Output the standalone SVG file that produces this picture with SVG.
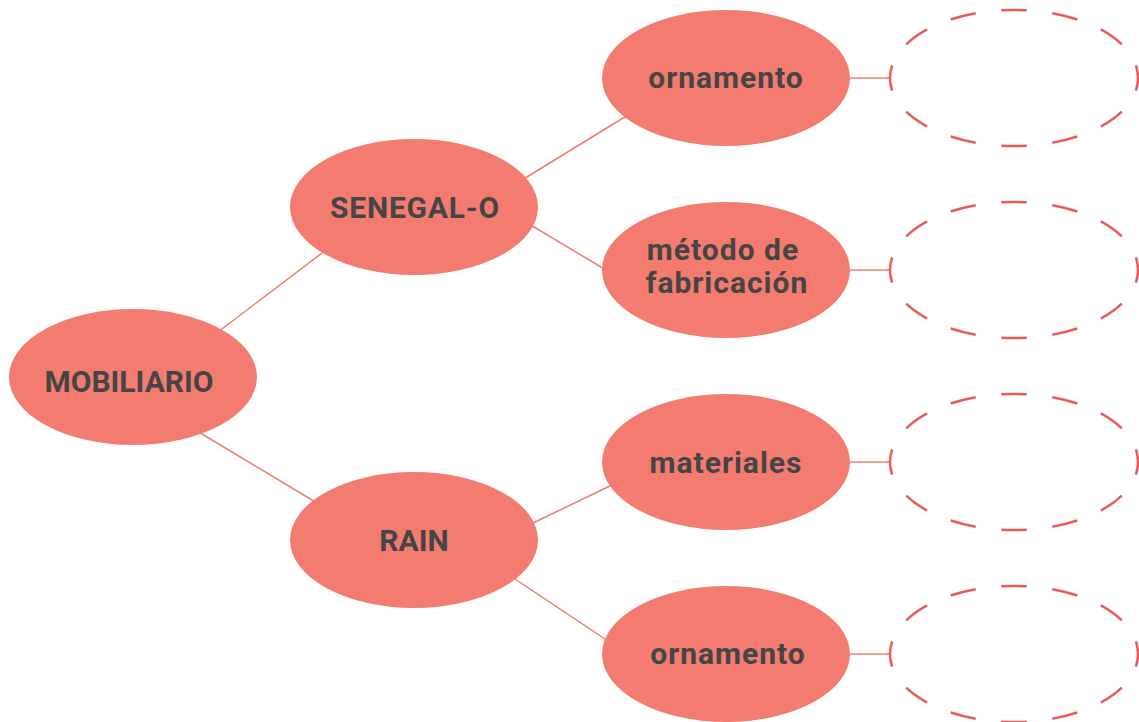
<svg xmlns="http://www.w3.org/2000/svg" width="1139" height="722" viewBox="0 0 1139 722">
<style>
.node{fill:#F47B6F;}
.lbl{font-family:Roboto,"Liberation Sans",sans-serif;font-weight:700;font-size:30px;fill:#454545;text-anchor:middle;}
.lc{letter-spacing:1px;}
.conn line{stroke:#F47B6F;stroke-width:1.5;}
.slot{fill:none;stroke:#E85B5B;stroke-width:2.5;stroke-dasharray:25 25;stroke-dashoffset:12.5;}
</style>
<rect width="1139" height="722" fill="#ffffff"/>
<g id="connectors" class="conn">
<line x1="218" y1="332" x2="326" y2="250"/>
<line x1="197" y1="431" x2="317" y2="503"/>
<line x1="522" y1="180" x2="628" y2="115"/>
<line x1="529" y1="224" x2="606" y2="270"/>
<line x1="531" y1="524" x2="614" y2="484"/>
<line x1="512" y1="577" x2="608" y2="641"/>
<line x1="848" y1="78" x2="890" y2="78"/>
<line x1="848" y1="270" x2="890" y2="270"/>
<line x1="848" y1="462" x2="890" y2="462"/>
<line x1="848" y1="654" x2="890" y2="654"/>
</g>
<g id="mobiliario"><ellipse class="node" cx="133" cy="377" rx="124" ry="68"/><text class="lbl" x="129" y="392">MOBILIARIO</text></g>
<g id="senegal"><ellipse class="node" cx="414" cy="207" rx="124" ry="68"/><text class="lbl" x="415" y="218" style="letter-spacing:0.8px">SENEGAL-O</text></g>
<g id="rain"><ellipse class="node" cx="414" cy="540" rx="124" ry="68"/><text class="lbl" x="414" y="551">RAIN</text></g>
<g id="ornamento1"><ellipse class="node" cx="726" cy="78" rx="124" ry="68"/><text class="lbl lc" x="726" y="88">ornamento</text></g>
<g id="metodo"><ellipse class="node" cx="726" cy="270" rx="124" ry="68"/><text class="lbl lc" x="723" y="260">método de</text><text class="lbl lc" x="727" y="293">fabricación</text></g>
<g id="materiales"><ellipse class="node" cx="726" cy="462" rx="124" ry="68"/><text class="lbl lc" x="726" y="473">materiales</text></g>
<g id="ornamento2"><ellipse class="node" cx="726" cy="654" rx="124" ry="68"/><text class="lbl lc" x="728" y="664">ornamento</text></g>
<g id="slot1"><ellipse class="slot" cx="1014" cy="78" rx="124" ry="68" pathLength="600"/></g>
<g id="slot2"><ellipse class="slot" cx="1014" cy="270" rx="124" ry="68" pathLength="600"/></g>
<g id="slot3"><ellipse class="slot" cx="1014" cy="462" rx="124" ry="68" pathLength="600"/></g>
<g id="slot4"><ellipse class="slot" cx="1014" cy="654" rx="124" ry="68" pathLength="600"/></g>
</svg>
